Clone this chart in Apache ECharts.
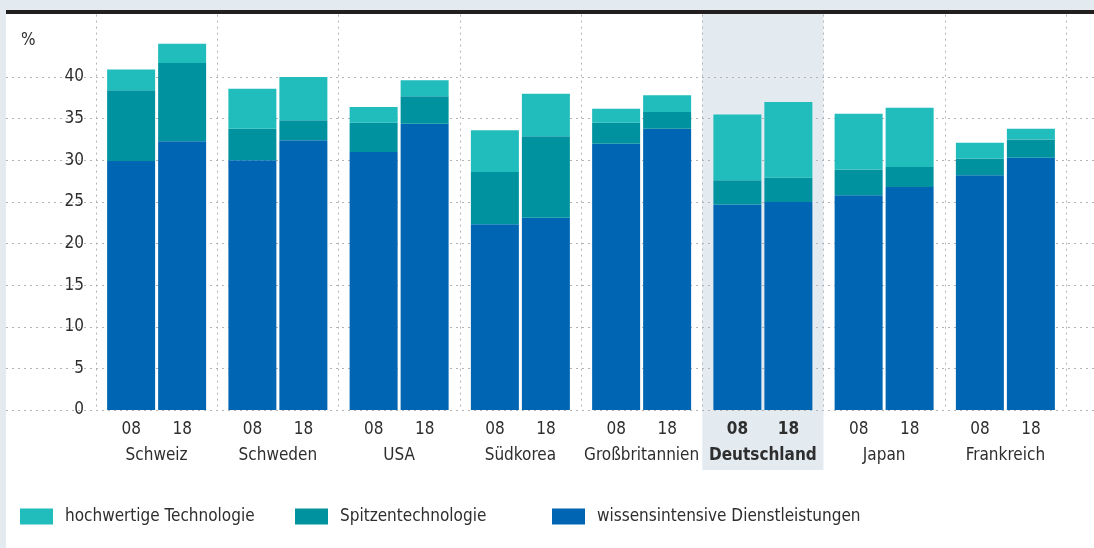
<!DOCTYPE html>
<html>
<head>
<meta charset="utf-8">
<script src="https://cdn.jsdelivr.net/npm/echarts@6/dist/echarts.min.js"></script>
<style>
  html, body { margin: 0; padding: 0; background: #e3ebf1; }
  #panel { position: absolute; left: 6px; top: 10px; width: 1088px; height: 538px;
           background: #ffffff; border-top: 4px solid #231f20; box-sizing: border-box; }
  #chart { position: absolute; left: 0; top: 0; width: 1094px; height: 548px; }
</style>
</head>
<body>
<div id="panel"></div>
<div id="chart"></div>
<script>
// Anteil an der Bruttowertschöpfung, 2008 und 2018 (%)
const countries = ['Schweiz', 'Schweden', 'USA', 'Südkorea', 'Großbritannien', 'Deutschland', 'Japan', 'Frankreich'];
const yearLabels = ['08', '18'];
const highlight = 'Deutschland';

const dienst08  = [29.9, 30.0, 31.0, 22.3, 32.0, 24.7, 25.8, 28.2];
const dienst18  = [32.3, 32.4, 34.4, 23.1, 33.8, 25.0, 26.8, 30.3];
const spitze08  = [8.5, 3.8, 3.5, 6.3, 2.5, 2.9, 3.1, 2.0];
const spitze18  = [9.4, 2.4, 3.3, 9.8, 2.0, 2.9, 2.4, 2.2];
const hochw08   = [2.5, 4.8, 1.9, 5.0, 1.7, 7.9, 6.7, 1.9];
const hochw18   = [2.3, 5.2, 1.9, 5.1, 2.0, 9.1, 7.1, 1.3];

const names = {
  hochw: 'hochwertige Technologie',
  spitze: 'Spitzentechnologie',
  dienst: 'wissensintensive Dienstleistungen'
};
const colors = { hochw: '#21bcbc', spitze: '#00939f', dienst: '#0066b3' };

const FONT = "'Liberation Sans Narrow', 'DejaVu Sans Condensed', 'Roboto', sans-serif";
const TXT = '#2e2e2e';
const dotted = { color: '#b4b4b4', width: 1, type: [2, 4] };

function barSeries(key, data, stack) {
  return {
    name: names[key], type: 'bar', stack: stack,
    xAxisIndex: 1, yAxisIndex: 1,
    barWidth: 48, barGap: '6.25%',
    itemStyle: { color: colors[key] },
    emphasis: { disabled: true },
    data: data
  };
}

const chart = echarts.init(document.getElementById('chart'), null, { renderer: 'canvas' });

const option = {
  backgroundColor: 'transparent',
  animation: false,
  textStyle: { fontFamily: FONT },
  grid: [
    { left: 6, right: 0, top: 77, bottom: 138 },
    { left: 96, right: 28, top: 14.6, bottom: 138 }
  ],
  xAxis: [
    { gridIndex: 0, type: 'value', show: false, min: 0, max: 1 },
    {
      gridIndex: 1, type: 'category', data: countries,
      axisLine: { show: false }, axisTick: { show: false },
      splitLine: { show: true, interval: 0, lineStyle: dotted },
      axisLabel: {
        interval: 0, margin: 7, color: TXT, fontFamily: FONT,
        formatter: function (val) {
          const b = val === highlight ? 'b' : '';
          return '{y' + b + '|' + yearLabels[0] + '}{y' + b + '|' + yearLabels[1] + '}\n{c' + b + '|' + val + '}';
        },
        rich: {
          y:  { width: 51, align: 'center', fontSize: 17, lineHeight: 26, color: TXT, fontFamily: FONT },
          yb: { width: 51, align: 'center', fontSize: 17, lineHeight: 26, color: TXT, fontFamily: FONT, fontWeight: 'bold' },
          c:  { align: 'center', fontSize: 17, lineHeight: 26, color: TXT, fontFamily: FONT },
          cb: { align: 'center', fontSize: 17, lineHeight: 26, color: TXT, fontFamily: FONT, fontWeight: 'bold' }
        }
      }
    }
  ],
  yAxis: [
    {
      gridIndex: 0, type: 'value', min: 0, max: 40, interval: 5,
      axisLabel: { show: false }, axisLine: { show: false }, axisTick: { show: false },
      splitLine: { show: true, lineStyle: dotted }
    },
    {
      gridIndex: 1, type: 'value', min: 0, max: 47.5, interval: 5,
      axisLine: { show: false }, axisTick: { show: false },
      splitLine: { show: false },
      axisLabel: {
        margin: 12, color: TXT, fontSize: 17, fontFamily: FONT,
        formatter: function (v) { return v > 40 ? '' : String(v); }
      }
    }
  ],
  legend: [
    { data: [names.hochw], left: 20, top: 508 },
    { data: [names.spitze], left: 295, top: 508 },
    { data: [names.dienst], left: 552, top: 508 }
  ].map(function (l) {
    return Object.assign(l, {
      icon: 'rect', itemWidth: 33, itemHeight: 16, selectedMode: false, padding: 0,
      textStyle: { color: TXT, fontSize: 17, fontFamily: FONT, padding: [0, 0, 0, 7] }
    });
  }),
  series: [
    barSeries('dienst', dienst08, 'y08'),
    barSeries('spitze', spitze08, 'y08'),
    barSeries('hochw', hochw08, 'y08'),
    barSeries('dienst', dienst18, 'y18'),
    barSeries('spitze', spitze18, 'y18'),
    barSeries('hochw', hochw18, 'y18')
  ]
};

chart.setOption(option);

// Highlight band behind the emphasised country and the unit label
const cx = chart.convertToPixel({ xAxisIndex: 1 }, highlight);
const band = 970 / countries.length;
chart.setOption({
  graphic: [
    {
      type: 'rect', z: -100, silent: true,
      shape: { x: cx - band / 2, y: 14, width: band, height: 456 },
      style: { fill: '#e3ebf1' }
    },
    {
      type: 'text', left: 21, top: 32,
      style: { text: '%', fill: TXT, fontSize: 17, fontFamily: FONT }
    }
  ]
});
</script>
</body>
</html>
